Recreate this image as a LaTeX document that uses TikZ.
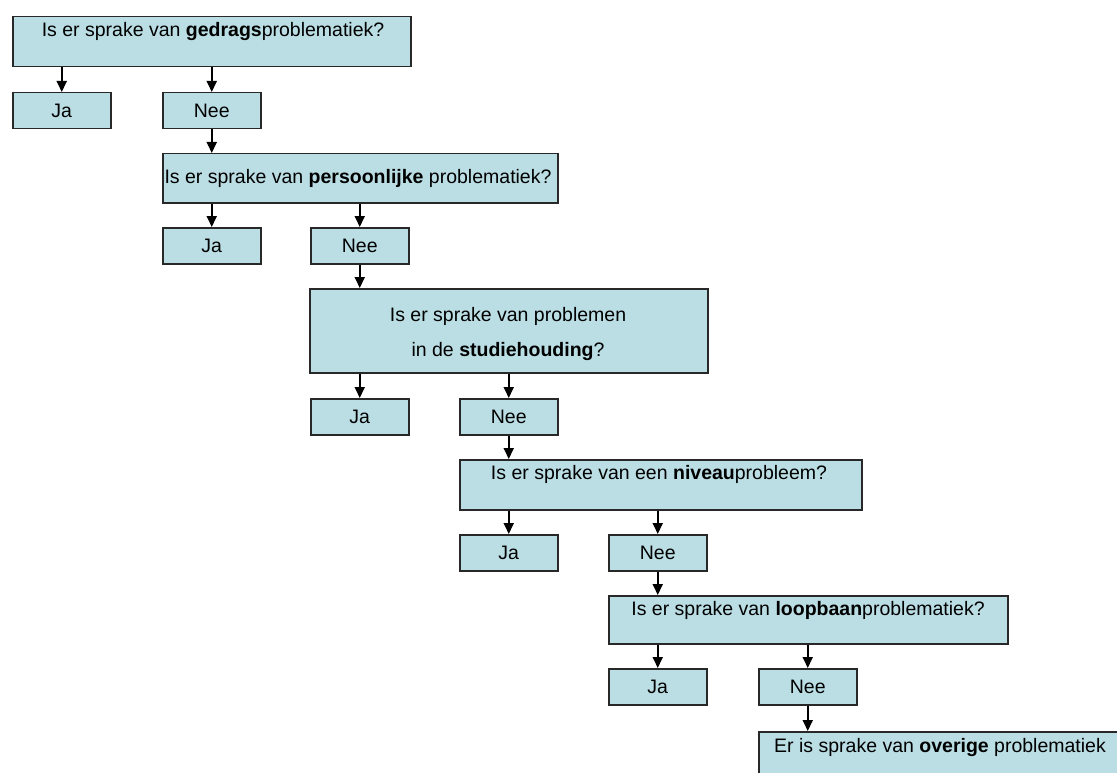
\documentclass[tikz,border=0pt]{standalone}
\usepackage{fontspec}
\setmainfont{Liberation Sans}
\usetikzlibrary{arrows.meta}
\definecolor{boxfill}{RGB}{186,222,228}
\definecolor{boxline}{RGB}{40,40,40}
\begin{document}
\begin{tikzpicture}[x=1pt,y=-1pt,
  box/.style={draw=boxline, fill=boxfill, line width=1.5pt, inner sep=0pt, anchor=north west},
  ans/.style={box, minimum width=98pt, minimum height=36pt, font=\fontsize{19.5}{23}\selectfont},
  txt/.style={font=\fontsize{19.5}{23}\selectfont, inner sep=0pt, anchor=base},
  arr/.style={line width=1.8pt, -{Triangle[width=10pt,length=11pt]}}]
\useasboundingbox (0,0) rectangle (1117,773);
\fill[white] (0,0) rectangle (1117,773);

% question boxes
\node[box, minimum width=398pt, minimum height=50pt] (q1) at (12,16) {};
\node[txt] (q1t) at (213,37) {Is er sprake van \textbf{gedrags}problematiek?};

\node[box, minimum width=395pt, minimum height=49pt] (q2) at (162,153) {};
\node[txt] (q2t) at (358,183) {Is er sprake van \textbf{persoonlijke} problematiek?};

\node[box, minimum width=398pt, minimum height=84pt] (q3) at (309,288) {};
\node[txt] (q3a) at (508,321) {Is er sprake van problemen};
\node[txt] (q3b) at (508,356) {in de \textbf{studiehouding}?};

\node[box, minimum width=402pt, minimum height=50pt] (q4) at (459,459) {};
\node[txt] (q4t) at (659,479) {Is er sprake van een \textbf{niveau}probleem?};

\node[box, minimum width=399pt, minimum height=48pt] (q5) at (608,595) {};
\node[txt] (q5t) at (808,615) {Is er sprake van \textbf{loopbaan}problematiek?};

\node[box, minimum width=380pt, minimum height=60pt] (q6) at (758,731) {};
\node[txt] (q6t) at (940,752) {Er is sprake van \textbf{overige} problematiek};

% answer boxes
\node[ans] (j1) at (12,92) {Ja};
\node[ans] (n1) at (162,92) {Nee};
\node[ans] (j2) at (162,227) {Ja};
\node[ans] (n2) at (310,227) {Nee};
\node[ans] (j3) at (310,398) {Ja};
\node[ans] (n3) at (459,398) {Nee};
\node[ans] (j4) at (459,534) {Ja};
\node[ans] (n4) at (608,534) {Nee};
\node[ans] (j5) at (608,668) {Ja};
\node[ans] (n5) at (758,668) {Nee};

% arrows
\draw[arr] (q1.south -| j1.north) -- (j1.north);
\draw[arr] (q1.south -| n1.north) -- (n1.north);
\draw[arr] (n1.south) -- (n1.south |- q2.north);
\draw[arr] (q2.south -| j2.north) -- (j2.north);
\draw[arr] (q2.south -| n2.north) -- (n2.north);
\draw[arr] (n2.south) -- (n2.south |- q3.north);
\draw[arr] (q3.south -| j3.north) -- (j3.north);
\draw[arr] (q3.south -| n3.north) -- (n3.north);
\draw[arr] (n3.south) -- (n3.south |- q4.north);
\draw[arr] (q4.south -| j4.north) -- (j4.north);
\draw[arr] (q4.south -| n4.north) -- (n4.north);
\draw[arr] (n4.south) -- (n4.south |- q5.north);
\draw[arr] (q5.south -| j5.north) -- (j5.north);
\draw[arr] (q5.south -| n5.north) -- (n5.north);
\draw[arr] (n5.south) -- (n5.south |- q6.north);
\end{tikzpicture}
\end{document}
